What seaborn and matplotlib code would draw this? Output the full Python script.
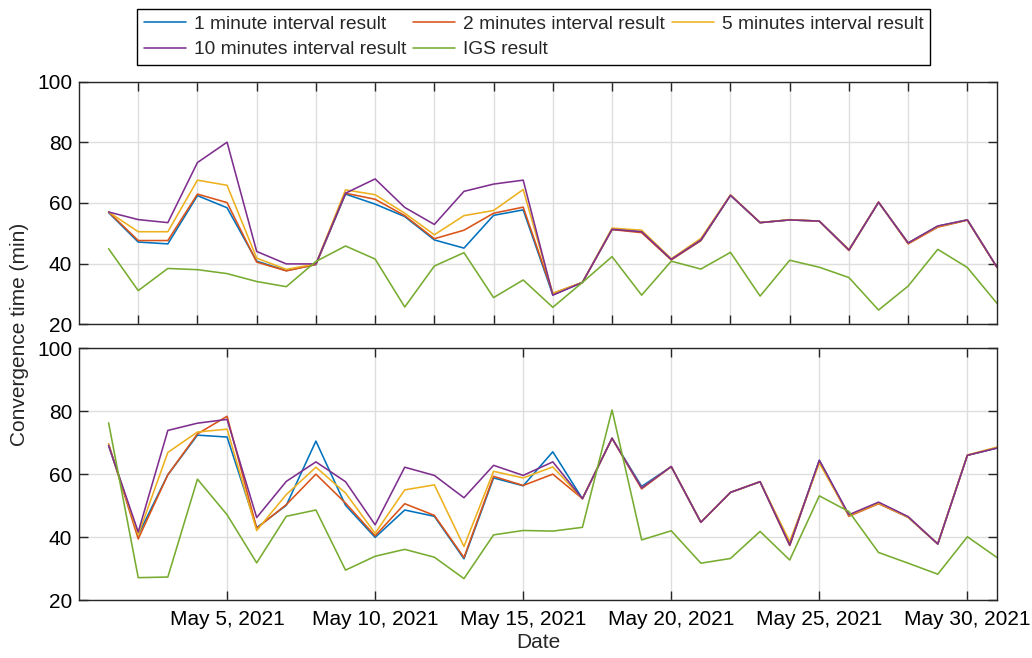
import numpy as np
import pandas as pd
import matplotlib
matplotlib.use("Agg")
import matplotlib.pyplot as plt
import matplotlib.dates as mdates
from matplotlib.ticker import FuncFormatter
import seaborn as sns

# ---------------- data ----------------
dates = pd.date_range("2021-05-01", "2021-05-31", freq="D")

series_names = ["1 minute interval result", "2 minutes interval result",
                "5 minutes interval result", "10 minutes interval result",
                "IGS result"]
colors = ["#0072BD", "#D95319", "#EDB120", "#7E2F8E", "#77AC30"]

top_1min = [56.8, 47.1, 46.5, 62.4, 58.4, 40.8, 37.7, 39.7, 62.9, 59.6, 55.5, 47.8, 45.1, 55.9, 57.7, 29.7,
            33.8, 51.3, 50.5, 41.4, 47.6, 62.5, 53.5, 54.4, 54.0, 44.5, 60.2, 46.8, 52.3, 54.4, 38.8]
top_2min = [57.0, 47.6, 47.6, 62.9, 60.1, 40.5, 37.6, 39.7, 63.2, 61.2, 55.8, 48.2, 51.0, 56.6, 58.6, 30.2,
            33.8, 51.2, 50.2, 41.2, 47.6, 62.6, 53.5, 54.4, 54.0, 44.3, 60.3, 46.5, 52.0, 54.3, 38.7]
top_5min = [57.0, 50.5, 50.5, 67.5, 65.8, 41.8, 38.1, 39.9, 64.3, 62.7, 56.6, 49.5, 55.8, 57.5, 64.4, 30.2,
            33.8, 51.7, 51.0, 41.6, 48.3, 62.6, 53.5, 54.5, 54.0, 44.6, 60.2, 46.8, 52.2, 54.4, 38.8]
top_10min = [57.0, 54.5, 53.5, 73.3, 80.0, 44.0, 39.9, 39.9, 63.2, 67.9, 58.5, 52.9, 63.8, 66.2, 67.5, 29.6,
             33.8, 51.3, 50.5, 41.4, 47.8, 62.5, 53.5, 54.4, 54.0, 44.5, 60.2, 46.8, 52.4, 54.4, 38.8]
top_igs = [44.9, 31.1, 38.4, 38.0, 36.7, 34.1, 32.4, 40.7, 45.8, 41.5, 25.7, 39.2, 43.6, 28.8, 34.6, 25.6,
           33.8, 42.3, 29.6, 40.8, 38.2, 43.7, 29.3, 41.1, 38.8, 35.4, 24.7, 32.6, 44.7, 38.7, 26.9]

bot_1min = [69.1, 40.7, 59.8, 72.4, 71.8, 43.0, 50.1, 70.5, 50.1, 39.9, 48.6, 46.6, 33.1, 58.8, 56.3, 67.1,
            52.2, 71.4, 56.1, 62.4, 44.7, 54.2, 57.6, 37.5, 64.4, 46.9, 50.8, 46.3, 37.8, 66.0, 68.3]
bot_2min = [69.6, 39.4, 59.8, 72.8, 78.4, 42.8, 50.3, 60.0, 50.8, 40.4, 50.6, 46.9, 33.5, 59.3, 56.4, 60.0,
            52.2, 71.4, 55.3, 62.4, 44.7, 54.2, 57.6, 37.3, 64.2, 46.6, 50.6, 46.3, 37.8, 66.0, 68.4]
bot_5min = [69.4, 40.7, 66.9, 73.4, 74.3, 42.1, 53.5, 62.2, 54.0, 41.2, 55.0, 56.6, 37.0, 60.9, 58.8, 62.3,
            52.2, 71.4, 55.6, 62.4, 44.7, 54.2, 57.6, 38.6, 63.5, 46.9, 50.8, 46.3, 37.9, 66.1, 68.6]
bot_10min = [69.1, 41.6, 73.9, 76.2, 77.4, 46.2, 57.7, 63.9, 57.6, 43.9, 62.2, 59.6, 52.5, 62.8, 59.6, 63.9,
             52.2, 71.4, 55.6, 62.4, 44.7, 54.2, 57.6, 37.5, 64.4, 47.1, 51.1, 46.5, 37.8, 66.0, 68.3]
bot_igs = [76.3, 27.1, 27.3, 58.4, 47.1, 31.8, 46.6, 48.6, 29.5, 33.9, 36.1, 33.6, 26.8, 40.7, 42.1, 41.9,
           43.1, 80.4, 39.1, 42.0, 31.7, 33.2, 41.8, 32.7, 53.1, 48.1, 35.1, 31.7, 28.2, 40.1, 33.5]

y_ticks = [20, 40, 60, 80, 100]
top_tick_days = ["2021-05-%02d" % d for d in [2, 4, 6, 8, 10, 12, 14, 16, 18, 20, 22, 24, 26, 28, 30]]
bot_tick_days = ["2021-05-05", "2021-05-10", "2021-05-15", "2021-05-20", "2021-05-25", "2021-05-30"]

# ---------------- style ----------------
sns.set_style("ticks")
plt.rcParams['font.family'] = ['Liberation Sans', 'DejaVu Sans']
AXC = "#262626"

fig = plt.figure(figsize=(10.32, 6.58), dpi=100)
W, H = 1032.0, 658.0
left_px, right_px = 79, 997
ax1 = fig.add_axes([left_px / W, 1 - 324.3 / H, (right_px - left_px) / W, (324.3 - 81.5) / H])
ax2 = fig.add_axes([left_px / W, 1 - 600.0 / H, (right_px - left_px) / W, (600.0 - 348.3) / H])


def long_df(values):
    return pd.DataFrame({
        "Date": np.tile(dates.values, len(values)),
        "value": np.concatenate([np.asarray(v, float) for v in values]),
        "series": np.repeat(series_names, len(dates)),
    })


def fmt_date(x, pos):
    d = mdates.num2date(x)
    return f"{d:%b} {d.day}, {d.year}"


for ax, vals, ticks, labels in [
    (ax1, [top_1min, top_2min, top_5min, top_10min, top_igs], top_tick_days, False),
    (ax2, [bot_1min, bot_2min, bot_5min, bot_10min, bot_igs], bot_tick_days, True),
]:
    sns.lineplot(data=long_df(vals), x="Date", y="value", hue="series",
                 hue_order=series_names, palette=colors, linewidth=1.15,
                 estimator=None, legend=False, ax=ax)
    ax.set_xlim(pd.Timestamp("2021-04-30"), pd.Timestamp("2021-05-31"))
    ax.set_ylim(20, 100)
    ax.set_yticks(y_ticks)
    ax.set_xticks(pd.to_datetime(ticks))
    ax.xaxis.set_major_formatter(FuncFormatter(fmt_date))
    ax.grid(True, color="#dedede", linewidth=1.0)
    ax.set_axisbelow(True)
    for s in ax.spines.values():
        s.set_visible(True)
        s.set_color(AXC)
        s.set_linewidth(1.0)
    ax.tick_params(axis="both", which="both", direction="in", length=6.5, width=1.0,
                   color=AXC, labelcolor="black", labelsize=15, pad=5,
                   top=True, right=True)
    ax.tick_params(axis="x", pad=7)
    if not labels:
        ax.tick_params(axis="x", labelbottom=False)
    ax.set_xlabel("")
    ax.set_ylabel("")

ax2.set_xlabel("Date", fontsize=15, labelpad=3)
fig.text(20 / W, 1 - 334 / H, "Convergence time (min)", rotation=90,
         ha="center", va="center", fontsize=15)

# legend filled row by row (matplotlib fills columns first, so reorder)
order = [0, 3, 1, 4, 2]
handles = [plt.Line2D([], [], color=colors[i], linewidth=1.15) for i in order]
labels_ = [series_names[i] for i in order]
leg = fig.legend(handles, labels_, ncol=3, loc="upper left",
                 bbox_to_anchor=(137 / W, 1 - 9 / H), fontsize=13.8,
                 frameon=True, fancybox=False, edgecolor="black", framealpha=1,
                 borderpad=0.35, labelspacing=0.4, handlelength=2.2,
                 handletextpad=0.4, columnspacing=0.38, borderaxespad=0)
leg.get_frame().set_linewidth(1.0)

fig.savefig("out.png", dpi=100)
